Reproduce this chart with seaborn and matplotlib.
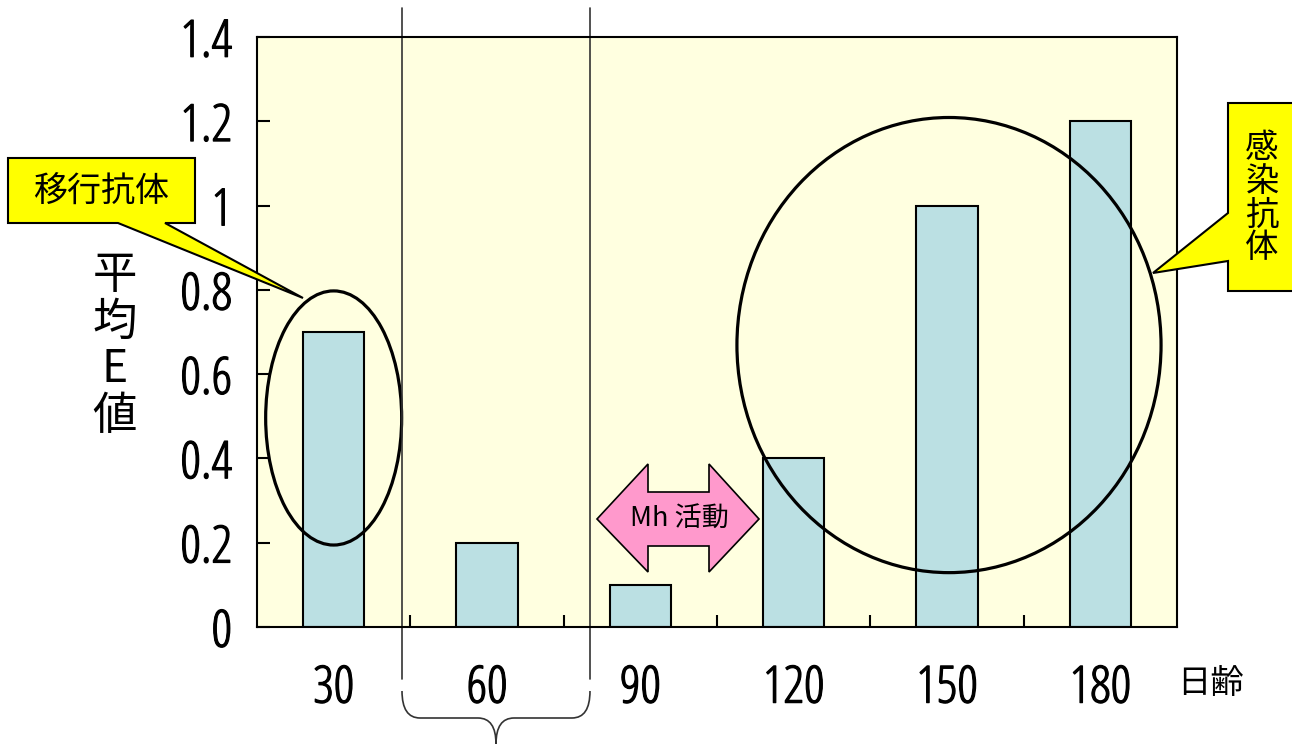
import numpy as np
import pandas as pd
import matplotlib.pyplot as plt
import matplotlib.transforms as mtransforms
import matplotlib.patheffects as pe
from matplotlib.patches import Ellipse, Polygon, PathPatch
from matplotlib.path import Path
import seaborn as sns

# datos
days = ['30', '60', '90', '120', '150', '180']
mean_e = [0.7, 0.2, 0.1, 0.4, 1.0, 1.2]
yticks = [0, 0.2, 0.4, 0.6, 0.8, 1.0, 1.2, 1.4]
ytick_labels = ['0', '0.2', '0.4', '0.6', '0.8', '1', '1.2', '1.4']

sns.set_style('ticks')
plt.rcParams['font.family'] = ['Noto Sans CJK JP', 'DejaVu Sans']
for k in ['text.color', 'axes.labelcolor', 'xtick.color', 'ytick.color']:
    plt.rcParams[k] = 'black'
JP = ['Noto Sans CJK JP', 'DejaVu Sans']

W, H = 1292, 744


def fp(x, y):
    # pixel -> coordenadas de figura
    return (x / W, 1 - y / H)


fig = plt.figure(figsize=(12.92, 7.44), dpi=100)
ax = fig.add_axes([257 / W, 1 - 627 / H, 920 / W, 590 / H])

df = pd.DataFrame({'day': days, 'E': mean_e})
sns.barplot(data=df, x='day', y='E', order=days, color='#BBE0E3', saturation=1,
            width=0.4, edgecolor='black', linewidth=1.5, ax=ax)

ax.set_xlim(-0.5, 5.5)
ax.set_ylim(0, 1.4)
ax.set_facecolor('#FFFFE0')
for s in ax.spines.values():
    s.set_visible(True)
    s.set_linewidth(1.5)
    s.set_color('black')
ax.set_yticks(yticks)
ax.set_yticklabels(ytick_labels)
ax.tick_params(axis='y', direction='in', length=9, width=1.5, pad=18, labelsize=37)
ax.tick_params(axis='x', which='major', length=0, pad=26, labelsize=37)
ax.set_xticks(np.arange(0.5, 5), minor=True)
ax.tick_params(axis='x', which='minor', direction='in', length=9, width=1.5)
ax.set_xlabel('')
ax.set_ylabel('')
# numeros estrechos (con un trazo para engrosar)
for lbl in ax.get_xticklabels() + ax.get_yticklabels():
    lbl.set_family(['Open Sans', 'DejaVu Sans'])
    lbl.set_fontstretch('condensed')
    lbl.set_fontweight(300)
    lbl.set_path_effects([pe.withStroke(linewidth=0.9, foreground='black')])

# lineas verticales del periodo de 60 dias
trans = mtransforms.blended_transform_factory(ax.transData, ax.transAxes)
for xv in [0.446, 1.672]:
    ax.plot([xv, xv], [(627 - 8) / 590, (627 - 679) / 590], transform=trans,
            color='#333333', lw=1.2, clip_on=False)

# llave
verts = [fp(402, 691), fp(402, 718), fp(420, 718), fp(478, 718), fp(496, 718), fp(496, 744),
         fp(496, 718), fp(514, 718), fp(572, 718), fp(590, 718), fp(590, 691)]
codes = [Path.MOVETO, Path.CURVE3, Path.CURVE3, Path.LINETO, Path.CURVE3, Path.CURVE3,
         Path.CURVE3, Path.CURVE3, Path.LINETO, Path.CURVE3, Path.CURVE3]
fig.patches.append(PathPatch(Path(verts, codes), transform=fig.transFigure,
                             fill=False, edgecolor='#333333', lw=1.2))

# elipses
ax.add_patch(Ellipse((0, 0.496), 0.887, 0.603, fill=False, edgecolor='black', lw=2.3, clip_on=False))
ax.add_patch(Ellipse((4.013, 0.669), 2.766, 1.08, fill=False, edgecolor='black', lw=2.3, clip_on=False))

# globo 移行抗体
box1 = [fp(8, 158), fp(195, 158), fp(195, 223), fp(165, 223), fp(303, 298),
        fp(118, 223), fp(8, 223)]
fig.patches.append(Polygon(box1, closed=True, transform=fig.transFigure,
                           facecolor='#FFFF00', edgecolor='black', lw=1.5))
fig.text(*fp(101, 192), '移行抗体', family=JP, fontsize=24.5, ha='center', va='center')

# globo 感染抗体
box2 = [fp(1228, 103), fp(1296, 103), fp(1296, 291), fp(1228, 291), fp(1228, 261),
        fp(1153, 273), fp(1228, 213)]
fig.patches.append(Polygon(box2, closed=True, transform=fig.transFigure,
                           facecolor='#FFFF00', edgecolor='black', lw=1.5))
for i, ch in enumerate('感染抗体'):
    fig.text(*fp(1262, 149 + i * 33), ch, family=JP, fontsize=24, ha='center', va='center')

# flecha Mh 活動
arrow = [fp(597, 519), fp(648, 464), fp(648, 492), fp(709, 492), fp(709, 464), fp(759, 519),
         fp(709, 572), fp(709, 546), fp(648, 546), fp(648, 572)]
fig.patches.append(Polygon(arrow, closed=True, transform=fig.transFigure,
                           facecolor='#FF99CC', edgecolor='black', lw=1.2))
fig.text(*fp(679, 519), 'Mh 活動', family=JP, fontsize=19.5, ha='center', va='center')

# etiqueta eje y vertical
for i, ch in enumerate('平均E値'):
    fig.text(*fp(115, 275 + i * 47), ch, family=JP, fontsize=32, ha='center', va='center')

fig.text(*fp(1177, 683), '日齢', family=JP, fontsize=24, ha='left', va='center')

fig.savefig('out.png', dpi=100)
